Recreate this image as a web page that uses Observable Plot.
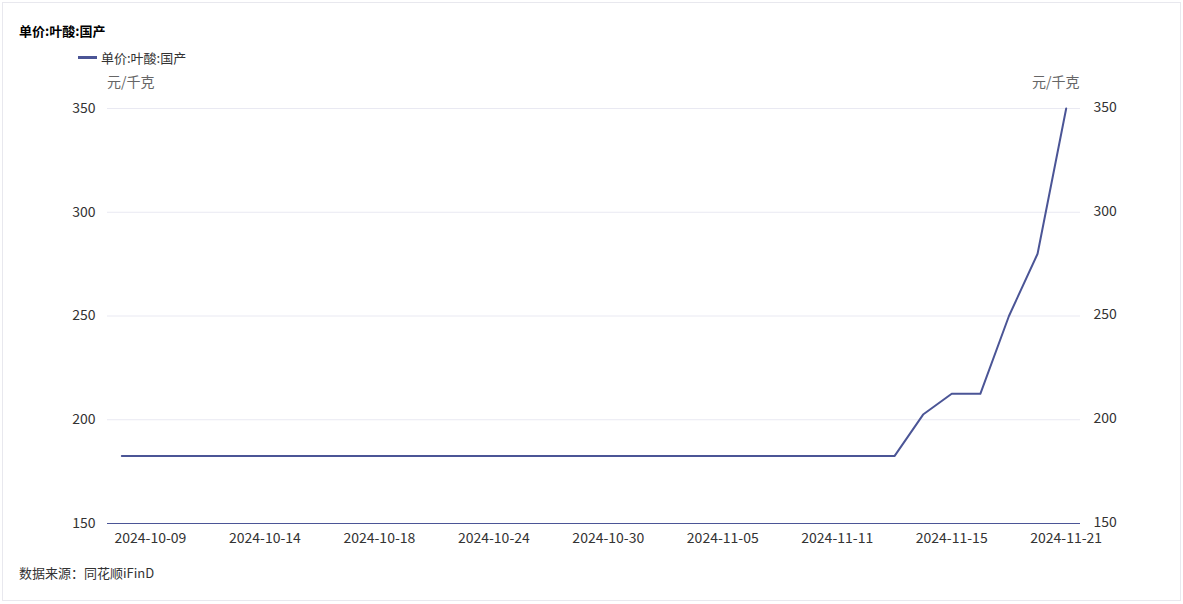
<!DOCTYPE html>
<html><head><meta charset="utf-8">
<script src="https://cdn.jsdelivr.net/npm/d3@7"></script>
<script src="https://cdn.jsdelivr.net/npm/@observablehq/plot@0.6"></script>
<style>
html,body{margin:0;padding:0;background:#fff;}
body{width:1183px;height:604px;overflow:hidden;font-family:"Noto Sans CJK SC","Noto Sans",sans-serif;}
#wrap{position:absolute;left:2px;top:2px;width:1177px;height:597px;border:1px solid #e8e8ee;}
.t{position:absolute;white-space:nowrap;}
#chart{position:absolute;left:0;top:90px;}
</style></head>
<body>
<div id="wrap"></div>
<div class="t" style="left:19px;top:21px;font-size:13px;font-weight:bold;color:#000;">单价:叶酸:国产</div>
<div class="t" style="left:78px;top:56px;width:19px;height:3px;background:#4b5596;"></div>
<div class="t" style="left:101px;top:48px;font-size:13px;color:#333;">单价:叶酸:国产</div>
<div class="t" style="left:107px;top:71px;font-size:14px;color:#666;">元/千克</div>
<div class="t" style="left:1032px;top:71px;font-size:14px;color:#666;">元/千克</div>
<div id="chart"></div>
<div class="t" style="left:19px;top:563px;font-size:13px;color:#333;">数据来源：同花顺iFinD</div>
<script>
const dates = ["2024-10-08","2024-10-09","2024-10-10","2024-10-11","2024-10-12","2024-10-14","2024-10-15","2024-10-16","2024-10-17","2024-10-18",
"2024-10-21","2024-10-22","2024-10-23","2024-10-24","2024-10-25","2024-10-28","2024-10-29","2024-10-30","2024-10-31","2024-11-01",
"2024-11-04","2024-11-05","2024-11-06","2024-11-07","2024-11-08","2024-11-11","2024-11-12","2024-11-13","2024-11-14","2024-11-15",
"2024-11-18","2024-11-19","2024-11-20","2024-11-21"];
const values = [182.5,182.5,182.5,182.5,182.5,182.5,182.5,182.5,182.5,182.5,
182.5,182.5,182.5,182.5,182.5,182.5,182.5,182.5,182.5,182.5,
182.5,182.5,182.5,182.5,182.5,182.5,182.5,182.5,202.5,212.5,
212.5,250,280,350];
const xTickLabels = ["2024-10-09","2024-10-14","2024-10-18","2024-10-24","2024-10-30","2024-11-05","2024-11-11","2024-11-15","2024-11-21"];
const yTicks = [150,200,250,300,350];
const data = dates.map((d,i)=>({date:d,value:values[i]}));
const chart = Plot.plot({
  width:1183, height:470,
  marginLeft:107, marginRight:103, marginTop:18, marginBottom:37,
  style:{fontFamily:'"Noto Sans CJK SC","Noto Sans",sans-serif', fontSize:"14px", color:"#333"},
  x:{type:"point", domain:dates, padding:0.5, round:false},
  y:{domain:[150,350]},
  marks:[
    Plot.gridY(yTicks,{stroke:"#e9e9f2", strokeOpacity:1}),
    Plot.ruleY([150],{stroke:"#4b5596", strokeWidth:1}),
    Plot.axisY(yTicks,{anchor:"left", tickSize:0, tickPadding:12, label:null, fill:"#333", fontSize:14}),
    Plot.axisY(yTicks,{anchor:"right", tickSize:0, tickPadding:13, label:null, fill:"#333", fontSize:14, dy:-1}),
    Plot.axisX(xTickLabels,{tickSize:0, tickPadding:10, label:null, fill:"#333", fontSize:14}),
    Plot.line(data,{x:"date", y:"value", stroke:"#4b5596", strokeWidth:2})
  ]
});
document.getElementById("chart").appendChild(chart);
</script>
</body></html>
